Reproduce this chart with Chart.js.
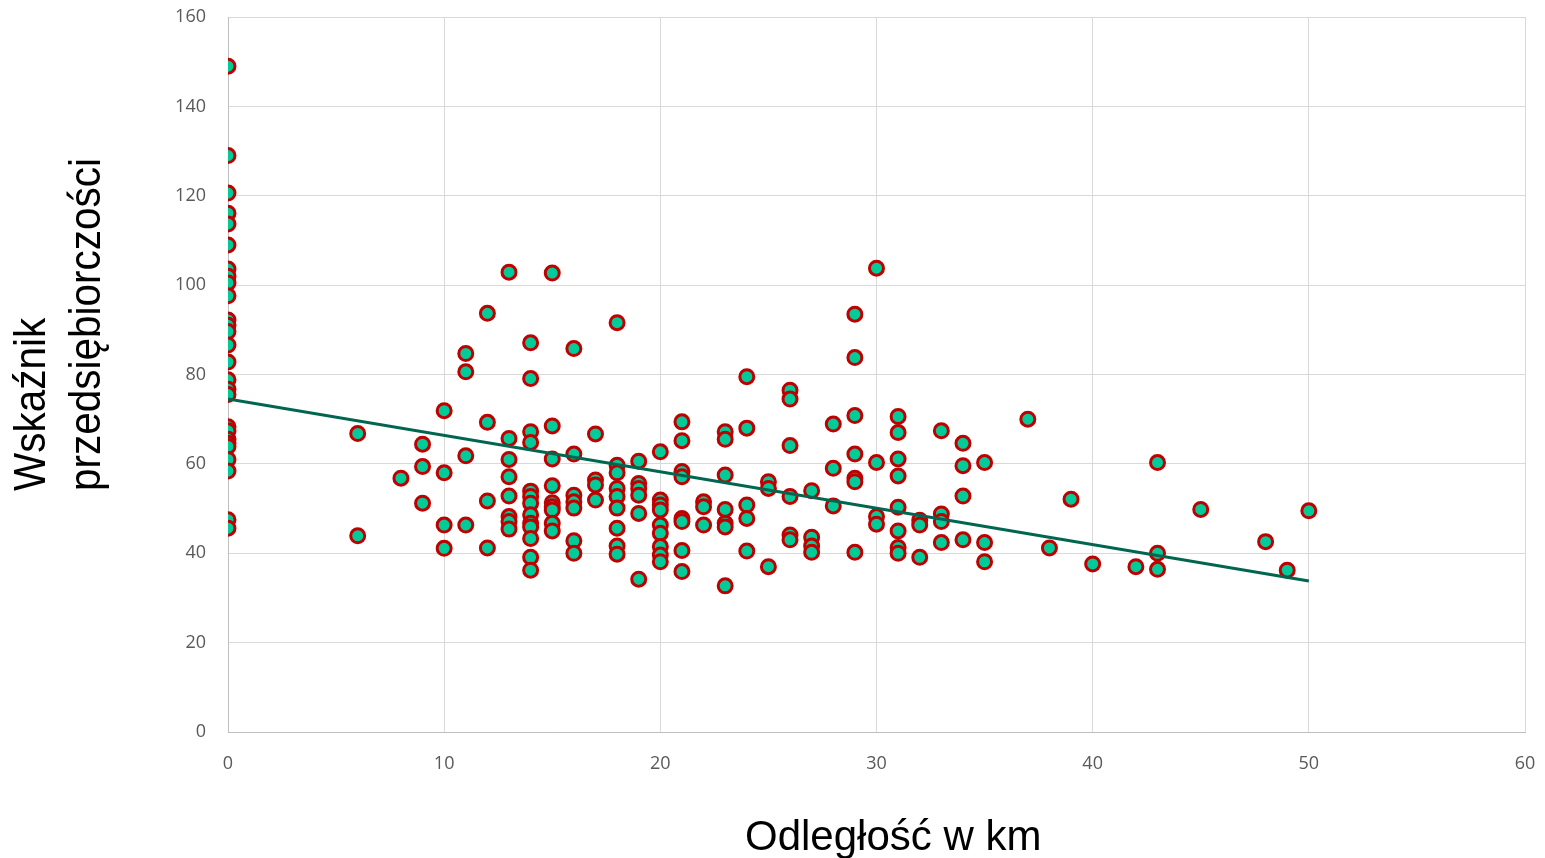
<!DOCTYPE html>
<html>
<head>
<meta charset="utf-8">
<title>Wskaźnik przedsiębiorczości</title>
<script src="https://cdn.jsdelivr.net/npm/chart.js@4/dist/chart.umd.min.js"></script>
<style>
  html, body { margin: 0; padding: 0; background: #fff; }
  #chart { display: block; }
</style>
</head>
<body>
<canvas id="chart" width="1545" height="858"></canvas>
<script>
"use strict";

// distance in km, one entry per group of points
const kmValues = [0, 6, 8, 9, 10, 11, 12, 13, 14, 15, 16, 17, 18, 19, 20, 21, 22, 23, 24, 25,
                  26, 27, 28, 29, 30, 31, 32, 33, 34, 35, 37, 38, 39, 40, 42, 43, 45, 48, 49, 50];

// index values for each distance above (same order)
const indexByKm = [
    [149, 129, 120.6, 116.1, 113.7, 109, 103.6, 102, 100.5, 97.6, 92.2, 91, 89.6, 86.6, 82.8,
     78.8, 76.7, 75.5, 68.3, 67.4, 65.5, 64.6, 63.9, 61, 58.4, 47.5, 45.6],
    [66.8, 43.9],
    [56.8],
    [64.4, 59.4, 51.2],
    [71.9, 58.0, 46.3, 41.1],
    [84.7, 80.6, 61.8, 46.3],
    [93.7, 69.3, 51.7, 41.2],
    [102.9, 65.7, 61.0, 57.1, 52.8, 48.2, 47.1, 45.4],
    [87.1, 79.1, 67.2, 64.8, 53.9, 52.7, 51.2, 48.6, 46.7, 45.9, 43.3, 39.1, 36.2],
    [102.7, 68.5, 61.1, 55.1, 51.3, 50.4, 49.7, 46.7, 45.0],
    [85.8, 62.2, 53.0, 51.5, 50.1, 42.8, 40.0],
    [66.7, 56.4, 55.3, 51.9],
    [91.6, 59.7, 58.0, 54.5, 52.7, 50.1, 45.6, 41.6, 39.8],
    [60.6, 55.6, 54.5, 53.0, 48.9, 34.2],
    [62.7, 51.9, 50.8, 49.7, 46.3, 44.5, 41.5, 39.6, 38.1],
    [69.4, 65.2, 58.3, 57.1, 47.8, 47.1, 40.6, 35.9],
    [51.5, 50.4, 46.3],
    [67.2, 65.5, 57.5, 49.8, 46.7, 45.9, 32.7],
    [79.5, 68.0, 50.8, 47.8, 40.5],
    [56.0, 54.5, 37.0],
    [76.5, 74.5, 64.1, 52.7, 44.1, 43.0],
    [54.0, 43.6, 41.6, 40.2],
    [68.9, 59.0, 50.6],
    [93.5, 83.8, 70.8, 62.2, 56.8, 56.0, 40.2],
    [103.8, 60.3, 48.2, 46.5],
    [70.6, 67.0, 61.1, 57.3, 50.3, 45.0, 41.3, 40.0],
    [47.4, 46.3, 39.1],
    [67.4, 48.8, 47.1, 42.4],
    [64.6, 59.6, 52.8, 43.0],
    [60.3, 42.4, 38.1],
    [70.0],
    [41.2],
    [52.1],
    [37.6],
    [37.0],
    [60.3, 40.0, 36.4],
    [49.8],
    [42.6],
    [36.2],
    [49.5]
];

// linear trend line
const trendKm = [0, 50];
const trendIndex = [74.5, 33.8];

const xTicks = [0, 10, 20, 30, 40, 50, 60];
const yTicks = [0, 20, 40, 60, 80, 100, 120, 140, 160];

const xTitle = 'Odległość w km';
const yTitle = ['Wskaźnik', 'przedsiębiorczości'];

// build point lists for the library
const points = [];
kmValues.forEach((km, i) => {
    indexByKm[i].forEach(v => points.push({ x: km, y: v }));
});
const trendPoints = trendKm.map((km, i) => ({ x: km, y: trendIndex[i] }));

const tickFont = { family: '"Open Sans", sans-serif', size: 18 };

// axis titles drawn by hand: the y title is start-aligned and a bit condensed
const axisTitles = {
    id: 'axisTitles',
    afterDraw(chart) {
        const c = chart.ctx;
        c.save();
        c.fillStyle = '#000';
        c.textBaseline = 'alphabetic';
        c.textAlign = 'left';
        c.font = '42px "Liberation Sans", Arial, sans-serif';
        c.fillText(xTitle, 745, 850);

        c.font = '44px "Liberation Sans", Arial, sans-serif';
        const baselines = [45, 100];
        yTitle.forEach((line, i) => {
            c.save();
            c.translate(baselines[i], 491);
            c.rotate(-Math.PI / 2);
            c.scale(0.92, 1);
            c.fillText(line, 0, 0);
            c.restore();
        });
        c.restore();
    }
};

const ctx = document.getElementById('chart').getContext('2d');

new Chart(ctx, {
    type: 'scatter',
    data: {
        datasets: [
            {
                label: 'trend',
                type: 'line',
                data: trendPoints,
                borderColor: '#006650',
                borderWidth: 3,
                pointRadius: 0,
                fill: false,
                order: 0
            },
            {
                label: 'Wskaźnik',
                data: points,
                backgroundColor: '#00cc99',
                borderColor: '#c00000',
                borderWidth: 3,
                pointRadius: 7,
                order: 1
            }
        ]
    },
    options: {
        responsive: false,
        animation: false,
        layout: { padding: { top: 17, right: 20, bottom: 0, left: 0 } },
        plugins: {
            legend: { display: false },
            tooltip: { enabled: false }
        },
        scales: {
            x: {
                type: 'linear',
                min: 0,
                max: 60,
                afterBuildTicks: scale => { scale.ticks = xTicks.map(v => ({ value: v })); },
                afterFit: scale => { scale.height = 126; },
                grid: { color: '#d9d9d9', drawTicks: true, tickLength: 21, tickColor: 'rgba(0,0,0,0)' },
                border: { color: '#bfbfbf' },
                ticks: { color: '#595959', font: tickFont, padding: 0, maxRotation: 0 }
            },
            y: {
                type: 'linear',
                min: 0,
                max: 160,
                afterBuildTicks: scale => { scale.ticks = yTicks.map(v => ({ value: v })); },
                afterFit: scale => { scale.width = 228; },
                grid: { color: '#d9d9d9', drawTicks: true, tickLength: 22, tickColor: 'rgba(0,0,0,0)' },
                border: { color: '#bfbfbf' },
                ticks: { color: '#595959', font: tickFont, padding: 0 }
            }
        }
    },
    plugins: [axisTitles]
});
</script>
</body>
</html>
